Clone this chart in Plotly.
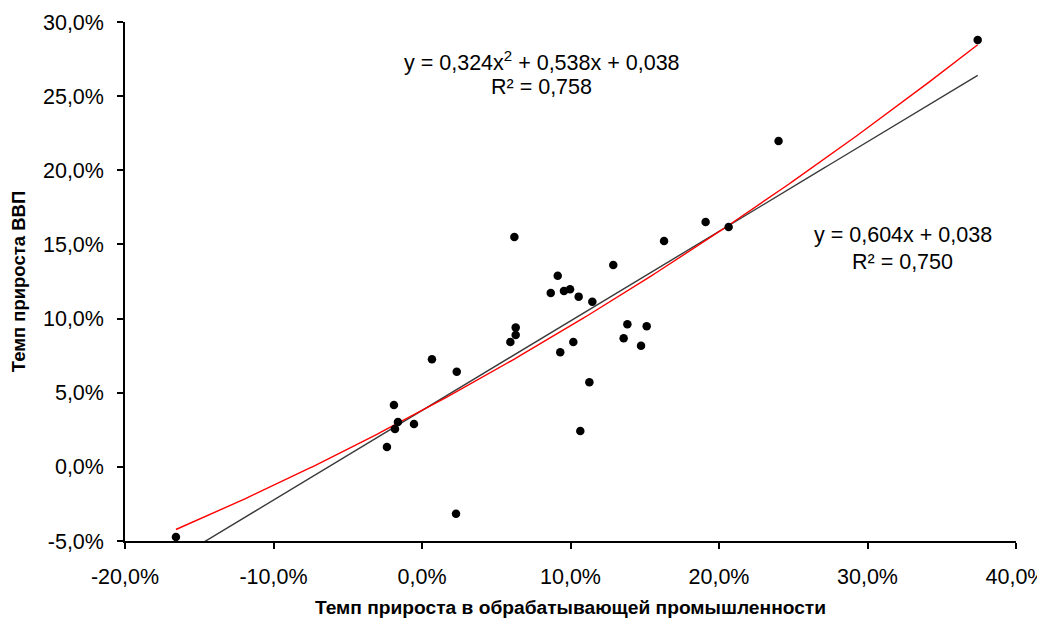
import numpy as np
import plotly.graph_objects as go

# Data (fractions): manufacturing growth (x) vs GDP growth (y)
manuf_growth = [-0.1657, -0.0236, -0.0189, -0.0162, -0.0182, -0.0054,
                0.0067, 0.0234, 0.0229, 0.0622, 0.0631, 0.0631, 0.0595,
                0.0914, 0.0867, 0.0956, 0.0997, 0.1055, 0.1147, 0.1288,
                0.0931, 0.1019, 0.1127, 0.1066, 0.1383, 0.1513, 0.1358,
                0.1475, 0.1630, 0.1910, 0.2065, 0.2401, 0.3742]
gdp_growth = [-0.0473, 0.0134, 0.0417, 0.0303, 0.0256, 0.0289,
              0.0726, 0.0642, -0.0316, 0.1550, 0.0939, 0.0889, 0.0842,
              0.1289, 0.1173, 0.1186, 0.1197, 0.1148, 0.1114, 0.1361,
              0.0773, 0.0842, 0.0570, 0.0242, 0.0962, 0.0948, 0.0867,
              0.0817, 0.1523, 0.1651, 0.1618, 0.2198, 0.2879]

# Trendline coefficients as shown on the chart
lin_coef = [0.604, 0.038]            # y = a*x + b
poly_coef = [0.324, 0.538, 0.038]    # y = a*x^2 + b*x + c

x_ticks = [-0.2, -0.1, 0.0, 0.1, 0.2, 0.3, 0.4]
y_ticks = [-0.05, 0.0, 0.05, 0.10, 0.15, 0.20, 0.25, 0.30]
x_tick_labels = ["-20,0%", "-10,0%", "0,0%", "10,0%", "20,0%", "30,0%", "40,0%"]
y_tick_labels = ["-5,0%", "0,0%", "5,0%", "10,0%", "15,0%", "20,0%", "25,0%", "30,0%"]

xs = np.linspace(min(manuf_growth), max(manuf_growth), 200)
y_lin = np.polyval(lin_coef, xs)
y_poly = np.polyval(poly_coef, xs)

fig = go.Figure()
fig.add_trace(go.Scatter(x=xs, y=y_lin, mode="lines",
                         line=dict(color="#3a3a3a", width=1.4),
                         showlegend=False, hoverinfo="skip"))
fig.add_trace(go.Scatter(x=xs, y=y_poly, mode="lines",
                         line=dict(color="#ff0000", width=1.4),
                         showlegend=False, hoverinfo="skip"))
fig.add_trace(go.Scatter(x=manuf_growth, y=gdp_growth, mode="markers",
                         marker=dict(color="black", size=8.5),
                         cliponaxis=False, showlegend=False))

font_main = "Liberation Sans, Arial, sans-serif"

# page body has an 8px default margin, so margins are offset accordingly
fig.update_layout(
    width=1045, height=613,
    margin=dict(l=117, r=37, t=14, b=80),
    paper_bgcolor="white", plot_bgcolor="white",
    font=dict(family=font_main, color="black", size=21.5),
    xaxis=dict(range=[-0.2, 0.4], tickvals=x_ticks, ticktext=x_tick_labels,
               automargin=False, ticklabeloverflow="allow",
               showgrid=False, zeroline=False, showline=True,
               linecolor="black", linewidth=1.5,
               ticks="outside", ticklen=6, tickcolor="black", tickwidth=1.5,
               tickfont=dict(size=21.5, color="black"),
               ticklabelstandoff=9,
               title=dict(text="<b>Темп прироста в обрабатывающей промышленности</b>",
                          font=dict(size=19.2, color="black"), standoff=13)),
    yaxis=dict(range=[-0.05, 0.30], tickvals=y_ticks, ticktext=y_tick_labels,
               automargin=False, ticklabeloverflow="allow",
               showgrid=False, zeroline=False, showline=True,
               linecolor="black", linewidth=1.5,
               ticks="outside", ticklen=6, tickcolor="black", tickwidth=1.5,
               tickfont=dict(size=21.5, color="black"),
               ticklabelstandoff=9,
               title=dict(text="<b>Темп прироста ВВП</b>",
                          font=dict(size=18.5, color="black"), standoff=14)),
)

ann_font = dict(family=font_main, size=21.5, color="black")
fig.add_annotation(x=0.0808, y=0.2739, xref="x", yref="y",
                   text="y = 0,324x<sup>2</sup> + 0,538x + 0,038",
                   showarrow=False, font=ann_font)
fig.add_annotation(x=0.0808, y=0.2564, xref="x", yref="y",
                   text="R² = 0,758", showarrow=False, font=ann_font)
fig.add_annotation(x=0.3239, y=0.1563, xref="x", yref="y",
                   text="y = 0,604x + 0,038", showarrow=False, font=ann_font)
fig.add_annotation(x=0.3239, y=0.1384, xref="x", yref="y",
                   text="R² = 0,750", showarrow=False, font=ann_font)

fig.write_html("out.html")
